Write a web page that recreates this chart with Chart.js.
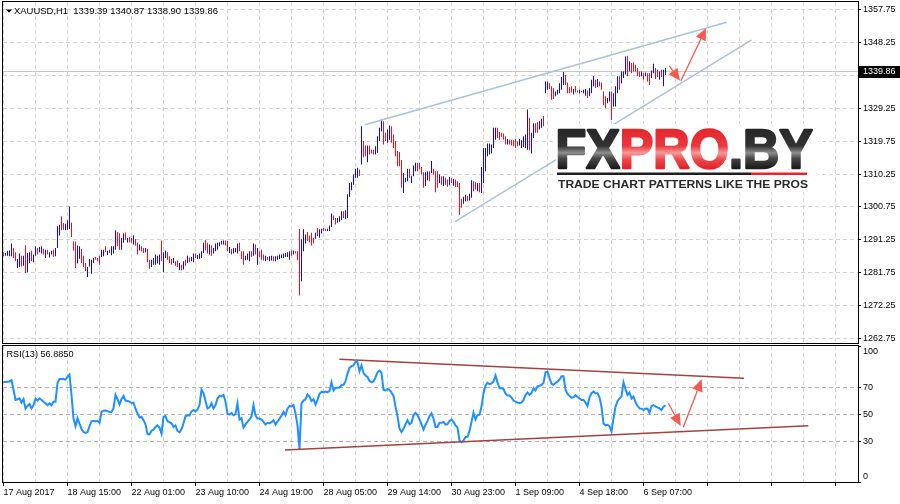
<!DOCTYPE html>
<html>
<head>
<meta charset="utf-8">
<title>XAUUSD H1</title>
<script src="https://cdn.jsdelivr.net/npm/chart.js@4.4.1/dist/chart.umd.min.js"></script>
<style>
  html, body { margin: 0; padding: 0; background: #fff; }
  #wrap { position: relative; width: 900px; height: 504px; overflow: hidden; }
  #priceChart { position: absolute; left: 0; top: 0; }
  #rsiChart { position: absolute; left: 0; top: 344px; }
</style>
</head>
<body>
<div id="wrap">
  <canvas id="priceChart" width="900" height="344"></canvas>
  <canvas id="rsiChart" width="900" height="160"></canvas>
</div>
<script>
var symbolText = 'XAUUSD,H1  1339.39 1340.87 1338.90 1339.86';
var lastClose = 1339.86;
var rsiLast = 56.8850;

// x axis labels, one every 32 hourly bars
var timeLabels = ['17 Aug 2017', '18 Aug 15:00', '22 Aug 01:00', '23 Aug 10:00', '24 Aug 19:00',
  '28 Aug 05:00', '29 Aug 14:00', '30 Aug 23:00', '1 Sep 09:00', '4 Sep 18:00', '6 Sep 07:00'];
var priceTicks = [1262.75, 1272.25, 1281.75, 1291.25, 1300.75, 1310.25, 1319.75, 1329.25, 1338.75, 1348.25, 1357.75];
var rsiTicks = [0, 30, 50, 70, 100];

var barHigh = [
  1287.7,1287.5,1288.1,1288.2,1290.2,1288.9,1287.7,1285.7,1287.3,1286.7,
  1286.7,1289.7,1287.5,1287.7,1288.1,1287.0,1289.4,1288.9,1289.2,1289.4,
  1288.7,1288.4,1288.4,1287.7,1288.1,1288.4,1288.9,1295.2,1295.6,1298.1,
  1296.1,1295.9,1296.9,1300.9,1296.3,1290.8,1290.8,1289.6,1289.4,1288.6,
  1286.7,1284.6,1283.4,1285.7,1285.5,1286.0,1286.3,1286.0,1286.7,1288.4,
  1288.4,1289.4,1288.1,1288.4,1289.4,1289.4,1294.0,1293.5,1293.2,1291.8,
  1293.2,1293.4,1291.8,1292.0,1291.8,1292.6,1291.5,1290.4,1289.9,1289.4,
  1288.9,1288.9,1288.6,1285.5,1285.5,1286.0,1287.0,1286.7,1287.0,1291.1,
  1287.7,1288.2,1287.7,1286.5,1285.7,1286.0,1285.1,1285.3,1284.6,1284.1,
  1285.1,1285.5,1286.7,1286.2,1286.3,1287.3,1287.3,1286.9,1287.3,1288.0,
  1290.4,1291.3,1290.4,1289.9,1289.7,1288.9,1290.2,1290.4,1290.6,1291.0,
  1291.1,1291.1,1290.9,1289.2,1288.6,1288.9,1288.9,1290.2,1290.4,1288.0,
  1288.0,1286.7,1287.3,1288.0,1288.0,1290.2,1289.9,1288.9,1288.0,1288.4,
  1287.0,1286.7,1286.3,1286.5,1286.7,1286.5,1286.5,1286.7,1287.0,1287.0,
  1287.3,1287.5,1287.7,1288.0,1288.2,1288.2,1288.0,1288.0,1294.4,1291.4,
  1294.3,1292.8,1293.5,1292.5,1293.3,1291.9,1293.3,1294.7,1294.3,1294.5,
  1294.7,1294.5,1294.5,1295.4,1298.9,1298.3,1297.6,1297.6,1298.1,1299.5,
  1299.5,1299.8,1304.4,1307.7,1307.9,1310.1,1311.8,1312.1,1311.6,1324.1,
  1319.8,1318.5,1318.5,1318.5,1317.3,1317.3,1318.3,1321.2,1323.6,1326.0,
  1325.5,1322.2,1323.1,1324.3,1324.1,1321.7,1319.8,1316.9,1316.6,1314.3,
  1310.6,1309.2,1311.8,1311.8,1309.8,1312.7,1313.5,1313.5,1313.5,1312.3,
  1310.8,1310.8,1311.1,1311.1,1314.0,1311.8,1311.1,1311.1,1310.1,1309.6,
  1309.6,1309.2,1308.7,1309.4,1309.1,1308.9,1308.7,1308.2,1307.7,1303.1,
  1303.7,1304.3,1304.0,1304.6,1308.5,1308.2,1307.9,1307.7,1307.7,1312.3,
  1317.8,1317.8,1319.1,1319.1,1318.8,1323.6,1323.6,1323.6,1322.4,1322.2,
  1322.0,1321.2,1320.4,1320.2,1320.2,1320.0,1320.4,1319.7,1320.4,1320.0,
  1321.2,1321.7,1328.9,1326.5,1322.2,1324.9,1324.9,1325.2,1325.5,1326.2,
  1327.0,1337.0,1337.0,1336.5,1335.6,1335.1,1334.1,1334.6,1336.5,1338.3,
  1339.7,1338.9,1336.7,1335.3,1335.6,1334.8,1335.6,1334.4,1334.6,1334.3,
  1334.6,1334.8,1334.4,1335.1,1337.5,1338.6,1337.5,1337.7,1337.0,1336.7,
  1334.1,1332.7,1332.2,1334.1,1334.1,1333.6,1335.6,1338.5,1338.5,1339.9,
  1339.9,1344.2,1344.4,1342.8,1342.3,1342.5,1341.8,1340.9,1339.9,1339.9,
  1339.4,1339.6,1339.4,1339.4,1340.2,1342.1,1340.9,1340.4,1339.9,1340.4,
  1340.4,1340.87
];
var barLow = [
  1286.5,1286.7,1286.7,1286.5,1286.5,1286.0,1285.1,1283.1,1283.4,1283.6,
  1283.8,1281.7,1281.9,1284.6,1285.1,1284.8,1286.7,1287.0,1287.7,1287.3,
  1287.0,1286.0,1287.0,1286.2,1287.0,1286.3,1286.5,1288.9,1292.5,1294.0,
  1294.2,1294.0,1294.2,1294.4,1292.1,1288.2,1283.1,1284.4,1285.8,1284.6,
  1283.4,1282.2,1280.5,1283.6,1281.5,1284.6,1285.5,1285.1,1284.1,1286.3,
  1286.5,1287.7,1286.9,1287.5,1286.8,1287.3,1288.4,1289.4,1288.4,1288.4,
  1290.4,1291.3,1290.5,1290.5,1290.4,1289.9,1289.6,1287.0,1288.2,1287.9,
  1287.5,1287.7,1284.8,1282.9,1283.4,1284.1,1284.1,1284.4,1284.1,1285.1,
  1281.9,1286.0,1285.5,1284.6,1284.1,1284.6,1283.8,1283.4,1282.5,1282.5,
  1282.7,1283.8,1284.6,1284.8,1285.1,1284.8,1286.0,1285.7,1285.8,1286.0,
  1287.5,1288.2,1287.3,1287.0,1286.7,1287.3,1288.0,1288.4,1289.4,1289.9,
  1289.9,1289.6,1288.0,1287.5,1287.0,1287.3,1287.7,1287.3,1288.0,1285.7,
  1284.1,1285.4,1285.5,1285.1,1286.3,1286.7,1287.0,1284.1,1286.3,1285.5,
  1285.3,1285.1,1285.4,1285.1,1285.3,1285.1,1285.1,1285.5,1285.7,1286.0,
  1286.0,1286.3,1286.3,1285.5,1286.7,1287.0,1287.3,1285.4,1275.2,1279.3,
  1288.0,1290.2,1290.9,1290.6,1289.6,1290.2,1291.6,1292.3,1291.9,1293.1,
  1293.8,1293.8,1293.8,1293.8,1295.0,1297.0,1295.7,1296.2,1296.5,1297.0,
  1297.6,1297.2,1297.6,1303.7,1305.6,1307.2,1309.2,1309.2,1309.7,1313.0,
  1315.1,1315.4,1313.7,1315.9,1316.2,1315.9,1315.9,1316.4,1319.8,1322.6,
  1318.8,1319.8,1319.3,1320.2,1319.3,1317.8,1315.4,1312.5,1312.5,1306.3,
  1304.8,1307.9,1308.2,1309.2,1307.7,1309.6,1311.1,1311.1,1311.6,1310.1,
  1306.3,1306.8,1308.5,1308.2,1310.6,1310.1,1305.0,1306.3,1307.7,1307.2,
  1306.8,1307.2,1306.6,1307.0,1307.7,1306.9,1306.5,1306.5,1298.5,1300.5,
  1301.7,1302.4,1302.4,1302.6,1303.4,1305.3,1305.8,1305.3,1305.0,1304.8,
  1307.7,1311.1,1315.4,1315.9,1316.2,1317.8,1320.2,1320.7,1320.2,1321.0,
  1320.2,1318.8,1318.8,1318.8,1318.5,1318.3,1317.8,1318.3,1318.5,1317.8,
  1318.1,1317.8,1317.3,1317.1,1316.2,1320.7,1322.2,1322.2,1323.1,1323.6,
  1324.1,1333.6,1334.6,1334.8,1331.7,1331.9,1332.7,1333.2,1333.6,1334.6,
  1336.0,1336.0,1333.6,1333.6,1333.8,1333.2,1333.8,1333.8,1333.6,1333.9,
  1333.6,1332.9,1332.2,1332.7,1333.6,1335.6,1335.1,1335.4,1335.6,1334.6,
  1330.2,1329.3,1330.7,1331.2,1325.9,1329.8,1329.8,1333.6,1334.6,1336.5,
  1338.0,1339.0,1338.5,1339.9,1339.4,1339.9,1339.9,1338.5,1338.3,1338.5,
  1337.5,1338.5,1337.0,1336.0,1338.0,1339.4,1337.7,1338.3,1337.5,1338.3,
  1335.6,1338.90
];
// B = bar closed up (blue), R = bar closed down (red)
var barDir = ('RBBBBRRBBR' + 'BRBBRBBRBB' + 'RBRBBRBBBR' + 'RBBBRRRBBR' + 'RRBBBBRRRB' +
  'BRBRBBBRRB' + 'BRBRRBRRBR' + 'RBRRBBBBBR' + 'BBRRRBRRBR' + 'BRBRBBRBBB' +
  'BRRBRBBBBB' + 'BRRBRBBBRR' + 'RBBBRBRBRR' + 'RBRBBRBBBB' + 'BBBBRBRRRB' +
  'BBRRRRBRBB' + 'RRBBBRRBBB' + 'RBBBBBBBRB' + 'RRBRRRBBBB' + 'RRBBRRRRRR' +
  'BBBRBBBRRR' + 'RBBRBRRRBR' + 'BRRBRBRRRR' + 'BBRBBRRBRB' + 'BBBBBBBRRR' +
  'RRBRRRRRBB' + 'BBBRBBRRBB' + 'RBBRRRBBBB' + 'BRRRRBRRBB' + 'BBRBBBRBRR' +
  'RRBBRBBBRB' + 'BBRBRRRRRB' + 'RBRRBBRRBR' + 'BB').split('');

var rsiValues = [
  74.0,74.0,74.3,74.5,75.5,68.3,60.8,61.3,62.0,58.8,
  61.3,54.3,56.3,57.8,54.5,57.0,61.8,60.3,62.0,60.8,
  59.5,58.3,57.0,58.3,56.8,59.5,59.5,73.3,76.3,76.3,
  76.3,75.8,77.8,79.5,64.5,47.0,41.3,47.3,43.3,39.3,
  37.0,36.3,37.0,41.3,45.0,45.3,44.8,45.3,43.8,52.0,
  52.8,53.0,52.5,51.8,51.8,54.5,64.5,61.3,57.5,61.3,
  63.8,60.3,60.0,59.5,58.5,58.8,54.3,50.8,47.8,48.3,
  45.8,42.8,35.5,35.3,38.0,38.8,40.8,42.0,40.3,35.8,
  48.3,48.8,45.0,44.3,43.5,40.8,41.8,37.8,36.8,39.0,
  43.3,48.8,49.3,49.3,52.3,53.3,52.3,53.8,57.0,68.3,
  65.8,60.0,54.5,55.3,58.3,54.5,57.0,61.8,63.8,63.5,
  64.5,59.5,50.3,50.0,51.0,49.5,50.3,58.3,46.3,47.3,
  40.3,42.8,44.5,46.3,48.5,57.0,49.3,47.0,47.0,46.3,
  44.5,42.5,43.8,43.5,44.3,45.8,42.5,45.0,46.8,49.3,
  52.0,49.5,54.3,56.3,56.0,57.0,50.8,42.0,24.5,58.3,
  60.3,61.3,64.8,63.3,60.0,61.3,57.3,60.8,65.3,66.8,
  66.3,67.0,66.5,67.3,73.8,67.8,69.8,69.8,70.0,71.8,
  72.0,74.5,80.3,84.5,85.8,86.3,89.0,88.8,82.0,86.3,
  80.8,78.8,77.8,74.8,74.0,74.5,77.5,81.3,82.5,80.8,
  68.3,67.8,68.8,68.3,66.3,63.8,55.8,48.8,39.5,37.0,
  39.5,42.8,45.8,42.8,43.8,49.5,51.3,49.5,46.3,42.8,
  38.8,42.3,45.3,48.8,50.8,47.0,40.8,40.8,43.8,43.8,
  44.5,42.5,42.8,45.3,46.3,44.5,42.0,40.3,30.8,29.5,
  30.8,33.3,33.5,37.8,44.5,51.3,46.3,49.5,49.8,55.8,
  65.8,71.3,73.5,72.5,73.0,74.5,78.8,73.8,69.5,69.5,
  68.8,65.5,64.0,64.0,62.5,60.3,59.5,58.8,58.5,58.8,
  60.8,64.5,66.3,64.5,65.8,69.5,67.8,70.8,71.3,72.0,
  73.3,81.3,81.8,77.0,72.8,72.0,73.3,74.3,75.8,78.3,
  78.3,68.3,65.3,63.8,62.3,62.8,64.3,63.0,61.8,60.8,
  60.8,58.8,56.3,62.8,65.8,67.0,65.8,65.8,62.8,55.8,
  43.3,42.0,42.3,41.3,37.3,47.0,55.8,59.8,62.0,63.3,
  73.8,68.8,64.5,66.3,61.8,63.3,59.0,56.5,54.5,54.3,
  53.3,54.5,54.3,51.3,56.3,57.0,55.8,55.3,54.5,53.3,
  55.8,56.885
];

// hand drawn objects, in (bar index, value) units
var priceChannel = [[[180.75, 1324.5], [361.6, 1354.1]], [[225.75, 1296.5], [374.1, 1349.0]]];
var rsiChannel = [[[167.9, 90.9], [370.25, 76.8]], [[140.75, 23.7], [402.4, 41.7]]];
var priceArrows = [[[332.9, 1341.5], [338.25, 1337.2]], [[338.75, 1337.2], [351.25, 1352.4]]];
var rsiArrows = [[[332.4, 58.3], [338.6, 41.5]], [[339.9, 40.5], [349.1, 76.1]]];

var FONT = '"Liberation Sans", Arial, sans-serif';
var upColor = '#0c0ce0';
var downColor = '#e8141c';
var gridColor = '#d4d4d4';
var xMin = -0.25, xMax = 427.25;
var gridStep = 16, labelStep = 32;

function gridTicks() {
    var t = [];
    for (var v = 0; v <= xMax; v += gridStep) t.push({ value: v });
    return t;
}

function noPadding(scale) {
    scale.paddingTop = 0; scale.paddingBottom = 0;
    scale.paddingLeft = 0; scale.paddingRight = 0;
}

function fitFontSize(ctx, text, weight, width) {
    ctx.font = weight + ' 100px ' + FONT;
    return 100 * width / ctx.measureText(text).width;
}

function channelDataset(pts, color) {
    return {
        type: 'line',
        data: pts.map(function (p) { return { x: p[0], y: p[1] }; }),
        borderColor: color,
        borderWidth: 1.5,
        pointRadius: 0
    };
}

function drawArrow(ctx, chart, a) {
    var xs = chart.scales.x, ys = chart.scales.y;
    var x1 = xs.getPixelForValue(a[0][0]), y1 = ys.getPixelForValue(a[0][1]);
    var x2 = xs.getPixelForValue(a[1][0]), y2 = ys.getPixelForValue(a[1][1]);
    var ang = Math.atan2(y2 - y1, x2 - x1), hl = 12, hw = 5.5;
    var bx = x2 - hl * Math.cos(ang), by = y2 - hl * Math.sin(ang);
    ctx.save();
    ctx.strokeStyle = '#f75a4e';
    ctx.fillStyle = '#f75a4e';
    ctx.lineWidth = 1.3;
    ctx.beginPath();
    ctx.moveTo(x1, y1);
    ctx.lineTo(bx, by);
    ctx.stroke();
    ctx.beginPath();
    ctx.moveTo(x2, y2);
    ctx.lineTo(bx + hw * Math.sin(ang), by - hw * Math.cos(ang));
    ctx.lineTo(bx - hw * Math.sin(ang), by + hw * Math.cos(ang));
    ctx.closePath();
    ctx.fill();
    ctx.restore();
}

function drawFrame(ctx, area) {
    ctx.save();
    ctx.strokeStyle = '#000';
    ctx.lineWidth = 1;
    ctx.strokeRect(area.left - 0.5, area.top - 0.5, area.right - area.left + 1, area.bottom - area.top + 1);
    ctx.restore();
}

function drawLogo(ctx) {
    ctx.save();
    ctx.fillStyle = '#fff';
    ctx.fillRect(556, 124, 262, 68);

    var parts = [['FX', 'dark'], ['PRO', 'red'], ['.BY', 'dark']];
    ctx.font = 'bold 55px ' + FONT;
    var m = ctx.measureText('FXPRO.BY');
    var ink = m.actualBoundingBoxLeft + m.actualBoundingBoxRight;
    var sx = 254 / ink;
    ctx.translate(558.2 + m.actualBoundingBoxLeft * sx, 168);
    ctx.scale(sx, 1);
    var x = 0;
    parts.forEach(function (p) {
        var g = ctx.createLinearGradient(0, -40, 0, 0);
        if (p[1] === 'red') {
            g.addColorStop(0, '#e4262c');
            g.addColorStop(0.45, '#ea383d');
            g.addColorStop(0.62, '#f59a9a');
            g.addColorStop(0.78, '#ee4a4c');
            g.addColorStop(1, '#e3232a');
        } else {
            g.addColorStop(0, '#262626');
            g.addColorStop(0.45, '#333333');
            g.addColorStop(0.62, '#8e8e8e');
            g.addColorStop(0.76, '#474747');
            g.addColorStop(1, '#1c1c1c');
        }
        ctx.fillStyle = g;
        ctx.strokeStyle = g;
        ctx.lineWidth = 2.4;
        ctx.lineJoin = 'round';
        ctx.fillText(p[0], x, 0);
        ctx.strokeText(p[0], x, 0);
        x += ctx.measureText(p[0]).width;
    });
    ctx.restore();

    ctx.save();
    ctx.fillStyle = '#1e1e1e';
    ctx.fillRect(557, 172.5, 194, 2.5);
    ctx.fillStyle = '#e5262b';
    ctx.fillRect(751, 172.5, 56, 2.5);

    var sub = 'TRADE CHART PATTERNS LIKE THE PROS';
    ctx.font = 'bold 10.5px ' + FONT;
    var ms = ctx.measureText(sub);
    var sw = (ms.actualBoundingBoxLeft + ms.actualBoundingBoxRight);
    var ssx = 250 / sw;
    ctx.translate(558 + ms.actualBoundingBoxLeft * ssx, 187.5);
    ctx.scale(ssx, 1);
    ctx.fillStyle = '#2b2b2b';
    ctx.fillText(sub, 0, 0);
    ctx.restore();
}

var pricePanel = {
    id: 'pricePanel',
    beforeDatasetsDraw: function (chart) {
        var ctx = chart.ctx, a = chart.chartArea;
        var y = Math.round(chart.scales.y.getPixelForValue(lastClose) - 0.5) + 0.5;
        ctx.save();
        ctx.strokeStyle = '#c8c8c8';
        ctx.lineWidth = 1;
        ctx.beginPath();
        ctx.moveTo(a.left, y);
        ctx.lineTo(a.right, y);
        ctx.stroke();
        ctx.restore();
    },
    afterDatasetsDraw: function (chart) {
        var ctx = chart.ctx;
        drawLogo(ctx);
        priceArrows.forEach(function (a) { drawArrow(ctx, chart, a); });
    },
    afterDraw: function (chart) {
        var ctx = chart.ctx, a = chart.chartArea;
        drawFrame(ctx, a);

        ctx.save();
        ctx.fillStyle = '#000';
        ctx.beginPath();
        ctx.moveTo(6, 9.5);
        ctx.lineTo(12, 9.5);
        ctx.lineTo(9, 12.8);
        ctx.closePath();
        ctx.fill();
        var size = fitFontSize(ctx, symbolText, 'normal', 204);
        ctx.font = size.toFixed(2) + 'px ' + FONT;
        ctx.textBaseline = 'alphabetic';
        ctx.fillText(symbolText, 14, 14);

        var y = chart.scales.y.getPixelForValue(lastClose);
        ctx.fillStyle = '#000';
        ctx.fillRect(859, Math.round(y) - 6, 41, 12);
        ctx.fillStyle = '#fff';
        ctx.font = '9px ' + FONT;
        ctx.textBaseline = 'middle';
        ctx.fillText(lastClose.toFixed(2), 863, y);
        ctx.restore();
    }
};

var rsiPanel = {
    id: 'rsiPanel',
    afterDatasetsDraw: function (chart) {
        var ctx = chart.ctx;
        rsiArrows.forEach(function (a) { drawArrow(ctx, chart, a); });
    },
    afterDraw: function (chart) {
        var ctx = chart.ctx, a = chart.chartArea, ys = chart.scales.y;
        drawFrame(ctx, a);
        ctx.save();
        ctx.fillStyle = '#000';
        var label = 'RSI(13) ' + rsiLast.toFixed(4);
        var size = fitFontSize(ctx, label, 'normal', 67);
        ctx.font = size.toFixed(2) + 'px ' + FONT;
        ctx.textBaseline = 'alphabetic';
        ctx.fillText(label, 6.5, 13);

        // end labels are kept inside the panel
        ctx.font = '9px ' + FONT;
        ctx.textBaseline = 'middle';
        ctx.fillText('100', 863, Math.max(ys.getPixelForValue(100), a.top + 5.5));
        ctx.fillText('0', 863, Math.min(ys.getPixelForValue(0), a.bottom - 5.5));
        ctx.restore();
    }
};

var priceChart = new Chart(document.getElementById('priceChart'), {
    type: 'bar',
    data: {
        datasets: [
            channelDataset(priceChannel[0], '#aac2d6'),
            channelDataset(priceChannel[1], '#aac2d6'),
            {
                label: 'XAUUSD,H1',
                data: barHigh.map(function (h, i) { return { x: i, y: [barLow[i], h] }; }),
                backgroundColor: function (c) { return barDir[c.dataIndex] === 'B' ? upColor : downColor; },
                borderWidth: 0,
                barThickness: 1,
                inflateAmount: 0
            }
        ]
    },
    options: {
        responsive: false,
        animation: false,
        devicePixelRatio: 1,
        layout: { padding: { left: 3, top: 2, right: 0, bottom: 1 } },
        plugins: { legend: { display: false }, tooltip: { enabled: false } },
        scales: {
            x: {
                type: 'linear', min: xMin, max: xMax, offset: false,
                grid: { offset: false, color: gridColor, drawTicks: false },
                border: { display: false, dash: [4, 3] },
                ticks: { display: false },
                afterBuildTicks: function (s) { s.ticks = gridTicks(); },
                afterFit: function (s) { s.height = 0; noPadding(s); }
            },
            y: {
                position: 'right',
                min: 1261.475, max: 1359.945,
                grid: { color: gridColor, tickColor: '#000', tickLength: 3 },
                border: { display: false, dash: [4, 3] },
                ticks: {
                    autoSkip: false, padding: 2, color: '#000',
                    font: { family: FONT, size: 9 },
                    callback: function (v) { return Number(v).toFixed(2); }
                },
                afterBuildTicks: function (s) { s.ticks = priceTicks.map(function (v) { return { value: v }; }); },
                afterFit: function (s) { s.width = 42; noPadding(s); }
            }
        }
    },
    plugins: [pricePanel]
});

var rsiChart = new Chart(document.getElementById('rsiChart'), {
    type: 'line',
    data: {
        datasets: [
            {
                type: 'line',
                data: rsiChannel[0].map(function (p) { return { x: p[0], y: p[1] }; }),
                borderColor: '#a4423e', borderWidth: 1.5, pointRadius: 0
            },
            {
                type: 'line',
                data: rsiChannel[1].map(function (p) { return { x: p[0], y: p[1] }; }),
                borderColor: '#a4423e', borderWidth: 1.5, pointRadius: 0
            },
            {
                label: 'RSI(13)',
                data: rsiValues.map(function (v, i) { return { x: i, y: v }; }),
                borderColor: '#1e90ff',
                borderWidth: 2,
                pointRadius: 0
            }
        ]
    },
    options: {
        responsive: false,
        animation: false,
        devicePixelRatio: 1,
        layout: { padding: { left: 3, top: 2, right: 0, bottom: 0 } },
        plugins: { legend: { display: false }, tooltip: { enabled: false } },
        scales: {
            x: {
                type: 'linear', min: xMin, max: xMax, offset: false,
                grid: {
                    offset: false, color: gridColor, tickLength: 4,
                    tickColor: function (c) { return c.tick && c.tick.value % labelStep === 0 ? '#000' : 'rgba(0,0,0,0)'; }
                },
                border: { display: false, dash: [4, 3] },
                ticks: {
                    autoSkip: false, maxRotation: 0, minRotation: 0, align: 'start', padding: 1,
                    color: '#000', font: { family: FONT, size: 9 },
                    callback: function (v) {
                        var k = v / labelStep;
                        return (k === Math.floor(k) && timeLabels[k]) ? timeLabels[k] : '';
                    }
                },
                afterBuildTicks: function (s) { s.ticks = gridTicks(); },
                afterFit: function (s) { s.height = 22; noPadding(s); }
            },
            y: {
                position: 'right', min: 0, max: 100.74,
                grid: {
                    color: function (c) { return (c.tick.value === 0 || c.tick.value === 100) ? 'rgba(0,0,0,0)' : '#b4b4b4'; },
                    tickColor: '#000', tickLength: 3
                },
                border: { display: false, dash: [4, 3] },
                ticks: {
                    autoSkip: false, padding: 2, color: '#000',
                    font: { family: FONT, size: 9 },
                    callback: function (v) { return (v === 0 || v === 100) ? '' : String(v); }
                },
                afterBuildTicks: function (s) { s.ticks = rsiTicks.map(function (v) { return { value: v }; }); },
                afterFit: function (s) { s.width = 42; noPadding(s); }
            }
        }
    },
    plugins: [rsiPanel]
});
</script>
</body>
</html>
